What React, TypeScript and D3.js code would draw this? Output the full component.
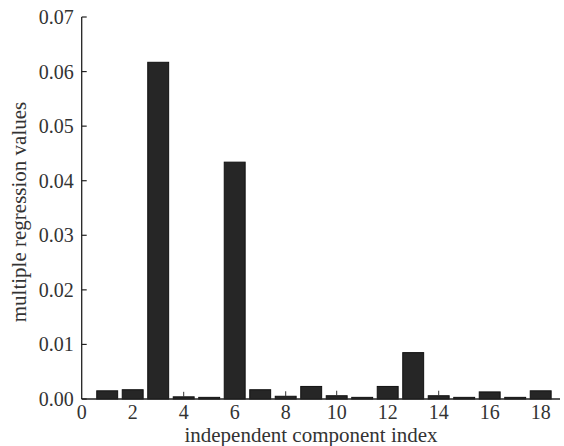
import React from "react";
import * as d3 from "d3";

const components = [1, 2, 3, 4, 5, 6, 7, 8, 9, 10, 11, 12, 13, 14, 15, 16, 17, 18];
const values = [0.0015, 0.0017, 0.0617, 0.0004, 0.0003, 0.0434, 0.0017, 0.0005, 0.0023, 0.0006, 0.0003, 0.0023, 0.0085, 0.0006, 0.0003, 0.0013, 0.0003, 0.0015];
const errorBars = [4, 8, 10, 14];
const xTicks = [0, 2, 4, 6, 8, 10, 12, 14, 16, 18];
const yTicks = [0, 0.01, 0.02, 0.03, 0.04, 0.05, 0.06, 0.07];

export default function App() {
  const W = 564, H = 446;
  const x = d3.scaleLinear().domain([0, 18]).range([81.7, 540.7]);
  const y = d3.scaleLinear().domain([0, 0.07]).range([399, 17]);
  const bw = (x(1) - x(0)) * 0.82;
  const font = "Liberation Serif";
  const fs = 20;
  const fsTitle = 21;
  return (
    <svg width={W} height={H} style={{ position: "absolute", left: 0, top: 0, background: "#fff" }}>
      {components.map((c, i) => {
        const h = y(0) - y(values[i]);
        return (
          <rect key={c} x={x(c) - bw / 2} y={y(values[i])} width={bw} height={Math.max(h, 1)}
            fill="#262626" stroke="#111" strokeWidth={1} />
        );
      })}
      {errorBars.map((c) => {
        const i = components.indexOf(c);
        return (
          <line key={"e" + c} x1={x(c)} x2={x(c)} y1={y(values[i]) - 5} y2={y(values[i])} stroke="#333" strokeWidth={1} />
        );
      })}
      <line x1={x(0)} x2={x(0)} y1={y(0.07)} y2={y(0)} stroke="#222" strokeWidth={1.3} />
      <line x1={x(0)} x2={560} y1={y(0)} y2={y(0)} stroke="#222" strokeWidth={1.3} />
      {yTicks.map((t) => (
        <g key={t}>
          <line x1={x(0)} x2={x(0) + 5} y1={y(t)} y2={y(t)} stroke="#222" strokeWidth={1.2} />
          <text x={x(0) - 8} y={y(t)} dy="0.35em" textAnchor="end" fontFamily={font} fontSize={fs} fill="#333">
            {t.toFixed(2)}
          </text>
        </g>
      ))}
      {xTicks.map((t) => (
        <text key={t} x={x(t)} y={y(0) + 20} textAnchor="middle" fontFamily={font} fontSize={fs} fill="#333">
          {t}
        </text>
      ))}
      <text x={311} y={442} textAnchor="middle" fontFamily={font} fontSize={fsTitle} fill="#333">
        independent component index
      </text>
      <text transform={`translate(26, 212) rotate(-90)`} textAnchor="middle" fontFamily={font} fontSize={fsTitle} fill="#333">
        multiple regression values
      </text>
    </svg>
  );
}
